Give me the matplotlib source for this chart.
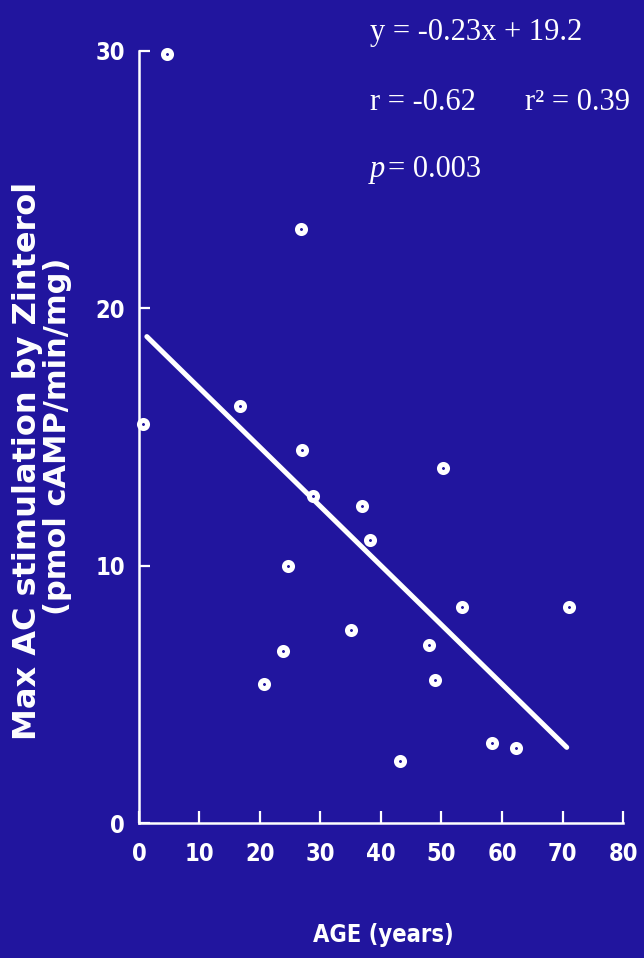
import matplotlib
matplotlib.use("Agg")
import matplotlib.pyplot as plt
import numpy as np

# data
age = [4.6, 0.7, 16.7, 26.9, 28.8, 36.9, 38.2, 24.6, 50.2, 53.4,
       71.1, 35.0, 47.9, 48.9, 43.1, 58.3, 62.3, 23.8, 20.7, 26.8]
ac_stim = [29.9, 15.5, 16.2, 14.5, 12.7, 12.3, 11.0, 10.0, 13.8, 8.4,
           8.4, 7.5, 6.9, 5.55, 2.4, 3.1, 2.9, 6.7, 5.4, 23.1]
slope = -0.23
intercept = 19.2
fit_range = [1.3, 70.7]
xticks = [0, 10, 20, 30, 40, 50, 60, 70, 80]
yticks = [0, 10, 20, 30]

bg = '#21159e'
fg = 'white'

fig = plt.figure(figsize=(6.44, 9.58), dpi=100)
fig.patch.set_facecolor(bg)
ax = fig.add_axes([0.2158, 0.1409, 0.7516, 0.8059])
ax.set_facecolor(bg)

# regression line
xf = np.array(fit_range)
ax.plot(xf, slope * xf + intercept, color=fg, lw=3.6, solid_capstyle='round')

# data points (open rings)
ax.plot(age, ac_stim, 'o', ms=5.8, mfc=bg, mec=fg, mew=3.6, clip_on=False)

ax.set_xlim(0, 80)
ax.set_ylim(0, 30)
for s in ['top', 'right']:
    ax.spines[s].set_visible(False)
for s in ['left', 'bottom']:
    ax.spines[s].set_color(fg)
    ax.spines[s].set_linewidth(1.8)

ax.set_xticks(xticks)
ax.set_yticks(yticks)
tickfont = dict(family='DejaVu Sans', weight='bold', size=17, stretch='condensed')
ax.set_xticklabels([str(t) for t in xticks], fontdict=tickfont)
ax.set_yticklabels([str(t) for t in yticks], fontdict=tickfont)
ax.tick_params(axis='x', direction='in', length=9, width=1.6, color=fg, labelcolor=fg, pad=14)
ax.tick_params(axis='y', direction='in', length=8, width=1.6, color=fg, labelcolor=fg, pad=10)

# axis titles
lab = dict(family='DejaVu Sans', weight='bold', color=fg)
fig.text(383 / 644, 1 - 935 / 958, 'AGE (years)', ha='center', va='center',
         size=17, stretch='condensed', **lab)
fig.text(28 / 644, 1 - 461 / 958, 'Max AC stimulation by Zinterol',
         rotation=90, ha='center', va='center', size=23, **lab)
fig.text(58 / 644, 1 - 436 / 958, '(pmol cAMP/min/mg)',
         rotation=90, ha='center', va='center', size=22, **lab)

# regression statistics
st = dict(family='Liberation Serif', size=22, color=fg, va='baseline')
fig.text(370 / 644, 1 - 40 / 958, 'y = -0.23x + 19.2', **st)
fig.text(370 / 644, 1 - 110 / 958, 'r = -0.62', **st)
fig.text(525 / 644, 1 - 110 / 958, 'r² = 0.39', **st)
fig.text(370 / 644, 1 - 177 / 958, 'p', style='italic', **st)
fig.text(388 / 644, 1 - 177 / 958, '= 0.003', **st)

fig.savefig('out.png', dpi=100, facecolor=bg)
